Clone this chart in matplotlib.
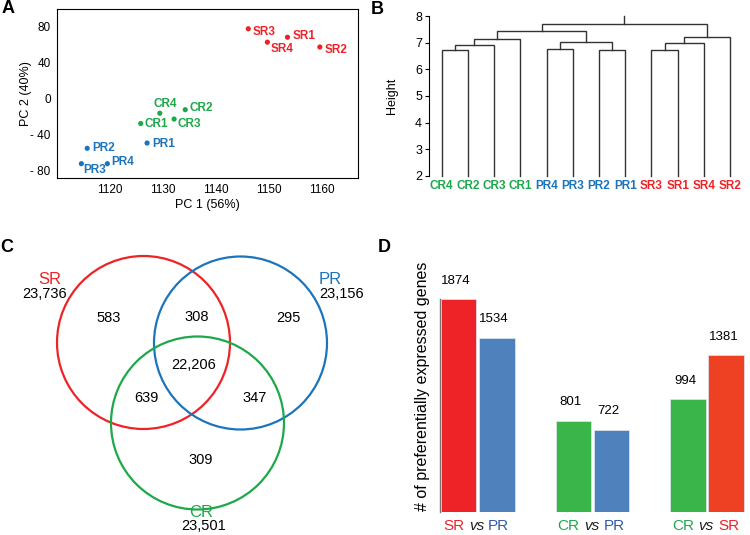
import matplotlib
matplotlib.use("Agg")
import matplotlib.pyplot as plt
from matplotlib.patches import Circle
from matplotlib.offsetbox import TextArea, HPacker, AnnotationBbox

plt.rcParams['font.family'] = ['Liberation Sans', 'DejaVu Sans']

RED = '#ED2327'
BLUE = '#1C75BC'
GREEN = '#1DA84A'

# --- panel A: PCA ---
pca_names = ['SR1', 'SR2', 'SR3', 'SR4', 'CR1', 'CR2', 'CR3', 'CR4', 'PR1', 'PR2', 'PR3', 'PR4']
pc1 = [1153.5, 1159.6, 1146.1, 1149.7, 1125.8, 1134.2, 1132.1, 1129.4, 1127.0, 1115.7, 1114.6, 1119.5]
pc2 = [68.5, 57.6, 78.0, 63.0, -28.0, -12.5, -23.0, -16.5, -49.8, -55.7, -72.9, -72.9]
pca_ticks_x = [1120, 1130, 1140, 1150, 1160]
pca_ticks_y = [80, 40, 0, -40, -80]
pca_ticklabels_y = ['80', '40', '0', '- 40', '- 80']

# --- panel B: dendrogram ---
leaf_names = ['CR4', 'CR2', 'CR3', 'CR1', 'PR4', 'PR3', 'PR2', 'PR1', 'SR3', 'SR1', 'SR4', 'SR2']
# merges: (child a, child b, height); new node ids start at 12
merge_a = [0, 12, 13, 4, 6, 15, 14, 8, 19, 20, 18]
merge_b = [1, 2, 3, 5, 7, 16, 17, 9, 10, 11, 21]
merge_h = [6.72, 6.93, 7.16, 6.77, 6.75, 7.02, 7.44, 6.72, 6.98, 7.23, 7.70]

# --- panel C: Venn ---
venn_sets = ['SR', 'PR', 'CR']
venn_totals = ['23,736', '23,156', '23,501']
venn_regions = ['583', '308', '295', '22,206', '639', '347', '309']

# --- panel D: bars ---
comparisons = [('SR', 'PR'), ('CR', 'PR'), ('CR', 'SR')]
first_counts = [1874, 801, 994]
second_counts = [1534, 722, 1381]


def group_color(name):
    return {'SR': RED, 'PR': BLUE, 'CR': GREEN}[name[:2]]


W, H = 750, 535
fig = plt.figure(figsize=(W / 100, H / 100), dpi=100)


def px_axes(left, top, right, bottom):
    return fig.add_axes([left / W, 1 - bottom / H, (right - left) / W, (bottom - top) / H])


# ---------------- A ----------------
axA = px_axes(57, 9, 358, 178)
cols = [group_color(n) for n in pca_names]
axA.scatter(pc1, pc2, s=14, c=cols, zorder=3, linewidths=0)
# label offsets in pixels (dx, dy) relative to the point
offsets = {'SR3': (4, -3), 'SR1': (5, 1), 'SR4': (3, -7), 'SR2': (5, -3),
           'CR4': (-6, 9), 'CR2': (4, 2), 'CR1': (4, 0), 'CR3': (3, -5),
           'PR1': (5, -1), 'PR2': (5, 0), 'PR3': (2, -6), 'PR4': (4, 2)}
for n, x, y, c in zip(pca_names, pc1, pc2, cols):
    dx, dy = offsets[n]
    axA.annotate(n, (x, y), xytext=(dx * 0.72, dy * 0.72), textcoords='offset points',
                 ha='left', va='center', color=c, fontsize=8.5, fontweight='bold')
axA.set_xlim(1110, 1166.8)
axA.set_ylim(-88.9, 100.1)
axA.set_xticks(pca_ticks_x)
axA.set_yticks(pca_ticks_y)
axA.set_yticklabels(pca_ticklabels_y)
axA.tick_params(length=0, labelsize=8.5, pad=4.5)
axA.set_xlabel('PC 1 (56%)', fontsize=9, labelpad=2)
axA.set_ylabel('PC 2 (40%)', fontsize=9)
axA.yaxis.set_label_coords(-0.082, 0.5)
for s in axA.spines.values():
    s.set_linewidth(0.8)

# ---------------- B ----------------
axB = px_axes(429, 16.3, 745, 175.7)
node_x = {i: float(i) for i in range(len(leaf_names))}
node_h = {i: 2.0 for i in range(len(leaf_names))}
for k, (a, b, h) in enumerate(zip(merge_a, merge_b, merge_h)):
    nid = len(leaf_names) + k
    xa, xb = node_x[a], node_x[b]
    axB.plot([xa, xa, xb, xb], [node_h[a], h, h, node_h[b]], color='#333333', lw=1,
             solid_joinstyle='miter', clip_on=False)
    node_x[nid] = (xa + xb) / 2
    node_h[nid] = h
root = len(leaf_names) + len(merge_h) - 1
axB.plot([node_x[root], node_x[root]], [node_h[root], 8], color='#333333', lw=1, clip_on=False)
axB.set_xlim(-0.485, 11.57)
axB.set_ylim(2, 8)
axB.set_xticks(range(len(leaf_names)))
axB.set_xticklabels(leaf_names, fontsize=8.5, fontweight='bold')
for lab in axB.get_xticklabels():
    lab.set_color(group_color(lab.get_text()))
axB.tick_params(axis='x', length=0, pad=3)
axB.tick_params(axis='y', length=3, labelsize=9, pad=2, width=0.8)
for s in ['top', 'right', 'bottom']:
    axB.spines[s].set_visible(False)
axB.spines['left'].set_linewidth(0.8)
axB.set_ylabel('Height', fontsize=9)
axB.yaxis.set_label_coords(-0.098, 0.5)

# ---------------- C ----------------
axC = px_axes(0, 240, 380, 535)
axC.set_xlim(0, 380)
axC.set_ylim(535, 240)
axC.axis('off')
circle_pos = [(143.5, 342.5), (240.5, 343.0), (197.5, 423.0)]
circle_col = [RED, BLUE, GREEN]
for (cx, cy), c in zip(circle_pos, circle_col):
    axC.add_patch(Circle((cx, cy), 86.5, fill=False, ec=c, lw=1.6))
name_pos = [(50, 279), (330, 279), (201.5, 512.5)]
total_pos = [(45, 293.5), (341.5, 293.5), (203.5, 526.5)]
for nm, tot, npos, tpos, c in zip(venn_sets, venn_totals, name_pos, total_pos, circle_col):
    axC.text(*npos, nm, color=c, fontsize=12, ha='center', va='center')
    axC.text(*tpos, tot, color='black', fontsize=10.5, ha='center', va='center')
region_pos = [(108.5, 318.5), (197, 317), (288.5, 318.5), (193.5, 365),
              (146, 398.5), (254.5, 398.5), (201, 460)]
for txt, (x, y) in zip(venn_regions, region_pos):
    axC.text(x, y, txt, fontsize=10.5, ha='center', va='center')

# ---------------- D ----------------
axD = px_axes(440, 270, 745, 511.7)
bw, gap = 0.31, 0.022
bar_colors = {'SR': RED, 'PR': '#4F81BD', 'CR': '#39B54A'}
label_colors = {'SR': RED, 'PR': '#2E5CA8', 'CR': '#1DA84A'}
for i, ((a, b), v1, v2) in enumerate(zip(comparisons, first_counts, second_counts)):
    c1 = bar_colors[a]
    c2 = '#EE4023' if b == 'SR' else bar_colors[b]
    x1 = i - (bw + gap) / 2
    x2 = i + (bw + gap) / 2
    axD.bar([x1], [v1], width=bw, color=c1, edgecolor='#dfe8f0', linewidth=0.5)
    axD.bar([x2], [v2], width=bw, color=c2, edgecolor='#dfe8f0', linewidth=0.5)
    for x, v in ((x1, v1), (x2, v2)):
        axD.annotate(str(v), (x, v), xytext=(-2, 9), textcoords='offset points',
                     ha='center', va='bottom', fontsize=9.5)
    parts = [TextArea(a, textprops=dict(color=label_colors[a], fontsize=11)),
             TextArea('vs', textprops=dict(color='#222222', fontsize=11, style='italic')),
             TextArea(b, textprops=dict(color=label_colors[b], fontsize=11))]
    box = HPacker(children=parts, sep=3, pad=0, align='baseline')
    ab = AnnotationBbox(box, (i, 0), xycoords=('data', 'axes fraction'),
                        xybox=(-1, -5.5), boxcoords='offset points',
                        box_alignment=(0.5, 1), frameon=False, pad=0)
    axD.add_artist(ab)
axD.set_xlim(-0.329, 2.33)
axD.set_ylim(0, 1874 * (511.7 - 270) / 212.4)
axD.set_xticks([])
axD.set_yticks([])
for s in ['top', 'right', 'bottom']:
    axD.spines[s].set_visible(False)
axD.spines['left'].set_bounds(0, max(first_counts))
axD.spines['left'].set_color('#777777')
axD.spines['left'].set_linewidth(1)
axD.set_ylabel('# of preferentially expressed genes', fontsize=11.5)
axD.yaxis.set_label_coords(-0.033, 0.52)

# panel letters
for lab, x, y in [('A', 8, 8.5), ('B', 377, 9), ('C', 7, 247), ('D', 384, 247)]:
    fig.text(x / W, 1 - y / H, lab, fontsize=13, fontweight='bold', ha='center', va='center')

fig.savefig('out.png', dpi=100)
